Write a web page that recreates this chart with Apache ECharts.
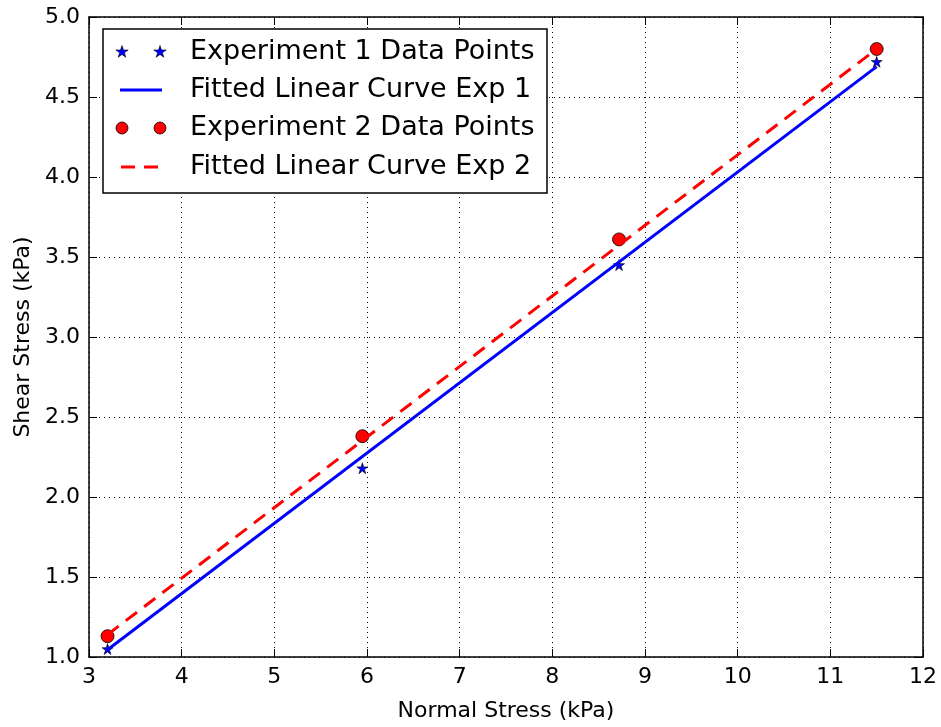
<!DOCTYPE html>
<html>
<head>
<meta charset="utf-8">
<script src="https://cdn.jsdelivr.net/npm/echarts@6/dist/echarts.min.js"></script>
<style>
html,body{margin:0;padding:0;background:#fff;}
#chart{width:941px;height:727px;}
</style>
</head>
<body>
<div id="chart"></div>
<script>
// ---- data ----
const normalStress = [3.2, 5.95, 8.72, 11.5];
const exp1Shear = [1.05, 2.18, 3.45, 4.72];
const exp2Shear = [1.13, 2.38, 3.61, 4.80];
const fitX = [3.2, 11.5];
const fit1Shear = [1.045, 4.69];
const fit2Shear = [1.14, 4.80];
const seriesNames = [
  'Experiment 1 Data Points',
  'Fitted Linear Curve Exp 1',
  'Experiment 2 Data Points',
  'Fitted Linear Curve Exp 2'
];
const xLabel = 'Normal Stress (kPa)';
const yLabel = 'Shear Stress (kPa)';

const FONT = 'DejaVu Sans';
const STAR = 'path://M0,-1 L0.2245,-0.309 L0.951,-0.309 L0.363,0.118 L0.588,0.809 L0,0.382 L-0.588,0.809 L-0.363,0.118 L-0.951,-0.309 L-0.2245,-0.309 Z';

const pairs = (xs, ys) => xs.map((x, i) => [x, ys[i]]);

const chart = echarts.init(document.getElementById('chart'), null, {renderer: 'canvas'});

const axisCommon = {
  type: 'value',
  axisLine: {show: true, onZero: false, lineStyle: {color: '#000', width: 1.5}},
  axisTick: {show: true, inside: true, length: 8, lineStyle: {color: '#000', width: 1}},
  splitLine: {show: false}
};

// legend drawn as graphic elements
function starPoints(cx, cy, r) {
  const pts = [];
  for (let i = 0; i < 10; i++) {
    const a = -Math.PI / 2 + i * Math.PI / 5;
    const rr = i % 2 === 0 ? r : r * 0.382;
    pts.push([cx + rr * Math.cos(a), cy + rr * Math.sin(a)]);
  }
  return pts;
}
const lg = {x: 103, y: 29, w: 444, h: 164, rowY: [52, 90, 128, 167], m1: 122, m2: 160, tx: 190};
const legendEls = [{
  type: 'rect', shape: {x: lg.x, y: lg.y, width: lg.w, height: lg.h},
  style: {fill: '#fff', stroke: '#000', lineWidth: 1.5}, z: 100
}];
[lg.m1, lg.m2].forEach(mx => legendEls.push({
  type: 'polygon', shape: {points: starPoints(mx, lg.rowY[0], 6.5)},
  style: {fill: '#0000ff', stroke: '#000', lineWidth: 0.6}, z: 101
}));
legendEls.push({type: 'line', shape: {x1: 120, y1: lg.rowY[1], x2: 162, y2: lg.rowY[1]},
  style: {stroke: '#0000ff', lineWidth: 3}, z: 101});
[lg.m1, lg.m2].forEach(mx => legendEls.push({
  type: 'circle', shape: {cx: mx, cy: lg.rowY[2], r: 6},
  style: {fill: '#ff0000', stroke: '#000', lineWidth: 0.8}, z: 101
}));
legendEls.push({type: 'line', shape: {x1: 121, y1: lg.rowY[3], x2: 158, y2: lg.rowY[3]},
  style: {stroke: '#ff0000', lineWidth: 3, lineDash: [14, 9]}, z: 101});
seriesNames.forEach((n, i) => legendEls.push({
  type: 'text', x: lg.tx, y: lg.rowY[i],
  style: {text: n, font: '27px "' + FONT + '"', fill: '#000', verticalAlign: 'middle', align: 'left'},
  z: 101
}));

const option = {
  backgroundColor: '#fff',
  animation: false,
  textStyle: {fontFamily: FONT},
  grid: {left: 89, right: 18, top: 17, bottom: 68, containLabel: false},
  xAxis: [
    Object.assign({}, axisCommon, {
      min: 3, max: 12, interval: 1, position: 'bottom',
      name: xLabel, nameLocation: 'middle', nameGap: 43,
      nameTextStyle: {fontSize: 22, fontFamily: FONT, color: '#000'},
      axisLabel: {fontSize: 22, fontFamily: FONT, color: '#000', margin: 9},
      splitLine: {show: true, lineStyle: {color: '#000', width: 1, type: [1, 4]}}
    }),
    Object.assign({}, axisCommon, {
      min: 3, max: 12, interval: 1, position: 'top', axisLabel: {show: false}
    })
  ],
  yAxis: [
    Object.assign({}, axisCommon, {
      min: 1, max: 5, interval: 0.5, position: 'left',
      name: yLabel, nameLocation: 'middle', nameGap: 54,
      nameTextStyle: {fontSize: 22, fontFamily: FONT, color: '#000'},
      axisLabel: {fontSize: 22, fontFamily: FONT, color: '#000', margin: 9,
        formatter: v => v.toFixed(1)},
      splitLine: {show: true, lineStyle: {color: '#000', width: 1, type: [1, 4]}}
    }),
    Object.assign({}, axisCommon, {
      min: 1, max: 5, interval: 0.5, position: 'right', axisLabel: {show: false}
    })
  ],
  series: [
    {
      name: seriesNames[0], type: 'scatter', xAxisIndex: 0, yAxisIndex: 0,
      data: pairs(normalStress, exp1Shear),
      symbol: STAR, symbolSize: 11,
      itemStyle: {color: '#0000ff', borderColor: '#000', borderWidth: 0.6, opacity: 1},
      z: 3
    },
    {
      name: seriesNames[1], type: 'line', xAxisIndex: 0, yAxisIndex: 0,
      data: pairs(fitX, fit1Shear), showSymbol: false, symbol: 'none',
      lineStyle: {color: '#0000ff', width: 3},
      z: 4
    },
    {
      name: seriesNames[2], type: 'scatter', xAxisIndex: 0, yAxisIndex: 0,
      data: pairs(normalStress, exp2Shear),
      symbol: 'circle', symbolSize: 13,
      itemStyle: {color: '#ff0000', borderColor: '#000', borderWidth: 0.8, opacity: 1},
      z: 5
    },
    {
      name: seriesNames[3], type: 'line', xAxisIndex: 0, yAxisIndex: 0,
      data: pairs(fitX, fit2Shear), showSymbol: false, symbol: 'none',
      lineStyle: {color: '#ff0000', width: 3, type: [14, 9]},
      z: 6
    }
  ],
  graphic: legendEls
};
chart.setOption(option);
</script>
</body>
</html>
